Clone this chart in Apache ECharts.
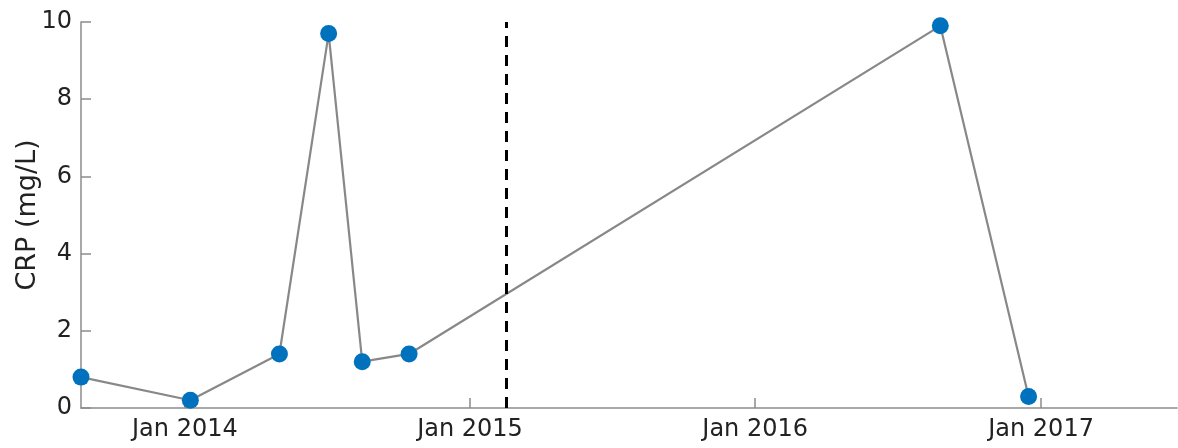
<!DOCTYPE html>
<html>
<head>
<meta charset="utf-8">
<script src="https://cdn.jsdelivr.net/npm/echarts@6/dist/echarts.min.js"></script>
<style>html,body{margin:0;padding:0;background:#fff}#c{width:1178px;height:448px}</style>
</head>
<body>
<div id="c"></div>
<script>
const dates = ['2013-08-21','2014-01-08','2014-05-02','2014-07-04','2014-08-16','2014-10-15','2016-08-25','2016-12-16'];
const crp = [0.8, 0.2, 1.4, 9.7, 1.2, 1.4, 9.9, 0.3];
const tickDates = ['2014-01-01','2015-01-01','2016-01-01','2017-01-01'];
const tickLabels = ['Jan 2014','Jan 2015','Jan 2016','Jan 2017'];
const eventDate = '2015-02-17';
const xMin = '2013-08-21', xMax = '2017-06-24';

const ts = s => Date.parse(s + 'T00:00:00Z');
const tickTs = tickDates.map(ts);
const labelMap = {};
tickTs.forEach((t, i) => labelMap[t] = tickLabels[i]);

const chart = echarts.init(document.getElementById('c'), null, {renderer: 'canvas'});
const font = "'DejaVu Sans', Arial, Helvetica, sans-serif";
chart.setOption({
  animation: false,
  grid: {left: 81, right: 1, top: 22, bottom: 40, containLabel: false, outerBoundsMode: 'none'},
  xAxis: {
    type: 'value',
    min: ts(xMin), max: ts(xMax),
    splitLine: {show: false},
    axisLine: {show: true, lineStyle: {color: '#8c8c8c', width: 1.5}},
    axisTick: {show: true, inside: true, length: 10, customValues: tickTs, lineStyle: {color: '#8c8c8c', width: 1.5}},
    axisLabel: {show: true, customValues: tickTs, formatter: v => labelMap[v] || '', color: '#222', fontSize: 24, fontFamily: font, margin: 10}
  },
  yAxis: {
    type: 'value', min: 0, max: 10, interval: 2,
    name: 'CRP (mg/L)', nameLocation: 'middle', nameGap: 40, nameMoveOverlap: false,
    nameTextStyle: {color: '#222', fontSize: 27, fontFamily: font},
    splitLine: {show: false},
    axisLine: {show: true, lineStyle: {color: '#8c8c8c', width: 1.5}},
    axisTick: {show: true, inside: true, length: 10, lineStyle: {color: '#8c8c8c', width: 1.5}},
    axisLabel: {color: '#222', fontSize: 24, fontFamily: font, margin: 9}
  },
  series: [{
    type: 'line',
    data: dates.map((d, i) => [ts(d), crp[i]]),
    symbol: 'circle', symbolSize: 17,
    itemStyle: {color: '#0072BD'},
    lineStyle: {color: '#888888', width: 2.2},
    z: 3,
    markLine: {
      silent: true, symbol: 'none', label: {show: false},
      lineStyle: {color: '#000', type: [11, 8], width: 3},
      data: [{xAxis: ts(eventDate)}]
    }
  }]
});
</script>
</body>
</html>
